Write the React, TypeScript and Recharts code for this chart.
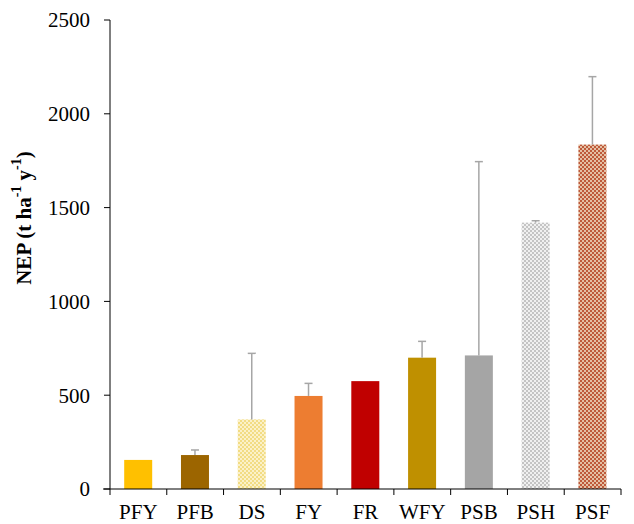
import React from 'react';
import { BarChart, Bar, XAxis, YAxis, Cell, Label } from 'recharts';

const categories = ['PFY', 'PFB', 'DS', 'FY', 'FR', 'WFY', 'PSB', 'PSH', 'PSF'];
const nepValues = [155, 181, 371, 496, 575, 700, 712, 1420, 1836];
// upper error (distance above the bar top), 0 = no whisker
const nepErrors = [0, 27, 352, 67, 0, 87, 1033, 10, 362];
const barFills = [
  '#FFC000',
  '#9C6500',
  'url(#dotYellow)',
  '#ED7D31',
  '#C00000',
  '#BF9000',
  '#A5A5A5',
  'url(#dotGray)',
  'url(#dotBrick)',
];
const yTicks = [0, 500, 1000, 1500, 2000, 2500];

const FONT = 'Liberation Serif, Times New Roman, DejaVu Serif, serif';

const data = categories.map((name, i) => ({
  name,
  nep: nepValues[i],
  err: nepErrors[i],
}));

// bar + upper-only whisker, whisker length scaled off the bar's own px/unit
const BarWithError = (props: any) => {
  const { x, y, width, height, fill, payload } = props;
  const pxPerUnit = payload.nep ? height / payload.nep : 0;
  const errPx = payload.err * pxPerUnit;
  const cx = x + width / 2;
  return (
    <g>
      <rect x={x} y={y} width={width} height={height} fill={fill} />
      {payload.err > 0 && (
        <g stroke="#A6A6A6" strokeWidth={1.5}>
          <line x1={cx} x2={cx} y1={y} y2={y - errPx} />
          <line x1={cx - 4} x2={cx + 4} y1={y - errPx} y2={y - errPx} />
        </g>
      )}
    </g>
  );
};

// category labels centred, tick marks on the category boundaries
const XTick = (props: any) => {
  const { x, y, payload, index, visibleTicksCount } = props;
  const off = payload && payload.offset ? payload.offset : 28.4;
  const last = index === visibleTicksCount - 1;
  return (
    <g>
      <line x1={x - off} x2={x - off} y1={y} y2={y + 6} stroke="#000" />
      {last && <line x1={x + off} x2={x + off} y1={y} y2={y + 6} stroke="#000" />}
      {index === 0 && <line x1={x - off - 7} x2={x - off} y1={y} y2={y} stroke="#000" />}
      <text x={x} y={y + 30} textAnchor="middle" style={{ fontSize: 21, fontFamily: FONT }} fill="#000">
        {payload.value}
      </text>
    </g>
  );
};

const YLabel = () => (
  <text
    x={24}
    y={218}
    transform="rotate(-90, 24, 218)"
    textAnchor="middle"
    dominantBaseline="central"
    style={{ fontSize: 21, fontWeight: 'bold', fontFamily: FONT }}
    fill="#000"
  >
    NEP (t ha
    <tspan dy={-8} style={{ fontSize: 14 }}>-1</tspan>
    <tspan dy={8}> y</tspan>
    <tspan dy={-8} style={{ fontSize: 14 }}>-1</tspan>
    <tspan dy={8}>)</tspan>
  </text>
);

const Patterns = () => (
  <svg width={0} height={0} style={{ position: 'absolute' }}>
    <defs>
      <pattern id="dotYellow" width={4} height={4} patternUnits="userSpaceOnUse">
        <rect width={4} height={4} fill="#FBF1C8" />
        <rect width={2} height={2} fill="#F2DC84" />
        <rect x={2} y={2} width={2} height={2} fill="#F2DC84" />
      </pattern>
      <pattern id="dotGray" width={4} height={4} patternUnits="userSpaceOnUse">
        <rect width={4} height={4} fill="#F0F0F0" />
        <rect width={2} height={2} fill="#C4C4C4" />
        <rect x={2} y={2} width={2} height={2} fill="#C4C4C4" />
      </pattern>
      <pattern id="dotBrick" width={4} height={4} patternUnits="userSpaceOnUse">
        <rect width={4} height={4} fill="#E4C0A4" />
        <rect width={2} height={2} fill="#BE5A3A" />
        <rect x={2} y={2} width={2} height={2} fill="#BE5A3A" />
      </pattern>
    </defs>
  </svg>
);

export default function App() {
  return (
    <div
      style={{
        position: 'absolute',
        left: 0,
        top: 0,
        width: 634,
        height: 524,
        background: '#fff',
        fontFamily: FONT,
      }}
    >
      <Patterns />
      <BarChart
        width={634}
        height={524}
        data={data}
        margin={{ top: 20, right: 13, bottom: 0, left: 0 }}
        barCategoryGap="25%"
        style={{ fontFamily: FONT }}
      >
        <XAxis
          dataKey="name"
          height={35}
          tickLine={false}
          tickSize={0}
          tickMargin={0}
          axisLine={{ stroke: '#000' }}
          tick={<XTick />}
          interval={0}
        />
        <YAxis
          width={110}
          domain={[0, 2500]}
          ticks={yTicks}
          tickSize={6}
          tickMargin={14}
          axisLine={{ stroke: '#000' }}
          tickLine={{ stroke: '#000' }}
          tick={{ fill: '#000', fontSize: 21, fontFamily: FONT, style: { fontFamily: FONT } }}
        >
          <Label content={<YLabel />} />
        </YAxis>
        <Bar dataKey="nep" shape={<BarWithError />} isAnimationActive={false}>
          {data.map((d, i) => (
            <Cell key={d.name} fill={barFills[i]} />
          ))}
        </Bar>
      </BarChart>
    </div>
  );
}
